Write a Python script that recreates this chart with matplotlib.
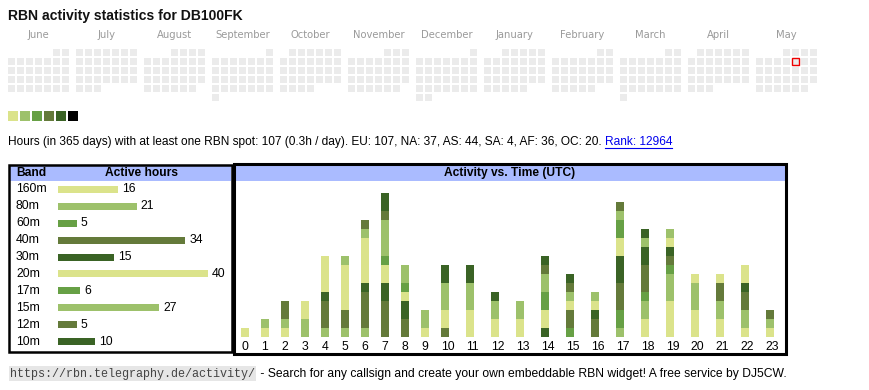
import datetime as dt
import matplotlib
matplotlib.use('Agg')
import matplotlib.pyplot as plt
from matplotlib.patches import Rectangle
import matplotlib.transforms as mtransforms
import numpy as np

# ---------------- data ----------------
callsign = "DB100FK"
months = ["June", "July", "August", "September", "October", "November",
          "December", "January", "February", "March", "April", "May"]
cal_start = dt.date(2024, 6, 1)
today = dt.date(2025, 5, 9)

bands = ['160m', '80m', '60m', '40m', '30m', '20m', '17m', '15m', '12m', '10m']
band_hours = [16, 21, 5, 34, 15, 40, 6, 27, 5, 10]
band_colors = ['#dbe38b', '#9dc16b', '#67a045', '#647a3a', '#3a6325',
               '#dbe38b', '#67a045', '#9dc16b', '#647a3a', '#3a6325']
legend_colors = ['#dbe38b', '#9dc16b', '#67a045', '#647a3a', '#3a6325', '#000000']

hours = [str(h) for h in range(24)]
act_160m = [1, 1, 1, 0, 0, 0, 0, 0, 0, 0, 0, 0, 0, 0, 0, 0, 0, 0, 2, 4, 3, 2, 1, 1]
act_80m = [0, 1, 1, 2, 1, 1, 1, 0, 0, 0, 0, 0, 0, 0, 0, 0, 0, 1, 2, 3, 3, 2, 2, 1]
act_60m = [0, 0, 0, 0, 0, 0, 0, 0, 0, 0, 0, 0, 0, 0, 0, 1, 0, 2, 1, 1, 0, 0, 0, 0]
act_40m = [0, 0, 2, 0, 3, 2, 4, 4, 2, 0, 1, 0, 0, 0, 0, 2, 2, 3, 3, 1, 0, 2, 2, 1]
act_30m = [0, 0, 0, 0, 1, 0, 1, 2, 2, 0, 0, 0, 0, 0, 1, 0, 1, 3, 2, 1, 0, 0, 1, 0]
act_20m = [0, 0, 0, 2, 4, 5, 5, 2, 1, 1, 2, 3, 2, 2, 2, 1, 1, 2, 0, 1, 1, 1, 2, 0]
act_17m = [0, 0, 0, 0, 0, 0, 0, 1, 1, 0, 0, 0, 0, 0, 2, 0, 0, 2, 0, 0, 0, 0, 0, 0]
act_15m = [0, 0, 0, 0, 0, 1, 1, 4, 2, 2, 3, 3, 2, 2, 2, 1, 1, 1, 1, 1, 0, 0, 0, 0]
act_12m = [0, 0, 0, 0, 0, 0, 1, 1, 0, 0, 0, 0, 0, 0, 1, 1, 0, 1, 0, 0, 0, 0, 0, 0]
act_10m = [0, 0, 0, 0, 0, 0, 0, 2, 0, 0, 2, 2, 1, 0, 1, 1, 0, 0, 1, 0, 0, 0, 0, 0]
activity = [act_160m, act_80m, act_60m, act_40m, act_30m,
            act_20m, act_17m, act_15m, act_12m, act_10m]

info_text = ("Hours (in 365 days) with at least one RBN spot: 107 (0.3h / day). "
             "EU: 107, NA: 37, AS: 44, SA: 4, AF: 36, OC: 20. ")
rank_text = "Rank: 12964"
footer_url = "https://rbn.telegraphy.de/activity/"
footer_text = " - Search for any callsign and create your own embeddable RBN widget! A free service by DJ5CW."

# ---------------- layout ----------------
W, H = 870, 390
fig = plt.figure(figsize=(W / 100, H / 100), dpi=100)
fig.patch.set_facecolor('white')
ax0 = fig.add_axes([0, 0, 1, 1])
ax0.set_xlim(0, W)
ax0.set_ylim(H, 0)
ax0.axis('off')


def pix_axes(left, top, width, height):
    a = fig.add_axes([left / W, 1 - (top + height) / H, width / W, height / H])
    a.patch.set_alpha(0)
    return a


SANS = 'Liberation Sans'
PT = 72 / 100  # px -> pt

# Title
ax0.text(8, 16, f"RBN activity statistics for {callsign}", fontsize=14 * PT,
         fontweight='bold', family=SANS, va='center', ha='left', color='#111111')

# Calendar
cell, stride, mstride = 7, 9, 68
for k, name in enumerate(months):
    y0 = cal_start.year + (cal_start.month - 1 + k) // 12
    m0 = (cal_start.month - 1 + k) % 12 + 1
    first = dt.date(y0, m0, 1)
    nxt = dt.date(y0 + m0 // 12, m0 % 12 + 1, 1)
    left = 8 + mstride * k
    ax0.text(left + (6 * stride + cell) / 2, 35, name, fontsize=10 * PT,
             family='DejaVu Sans', color='#9a9a9a', ha='center', va='center')
    off = first.weekday()
    d = first
    while d < nxt:
        idx = d.day - 1 + off
        r, c = idx // 7, d.weekday()
        is_today = (d == today)
        ax0.add_patch(Rectangle((left + stride * c, 49 + stride * r), cell, cell,
                                facecolor='#ebebeb',
                                edgecolor='#ee0000' if is_today else 'none',
                                linewidth=1.0 if is_today else 0))
        d += dt.timedelta(days=1)

# Colour legend
for i, col in enumerate(legend_colors):
    ax0.add_patch(Rectangle((8 + 12 * i, 111), 10, 10, facecolor=col, edgecolor='none'))

# Info line
fig.canvas.draw()
rend = fig.canvas.get_renderer()
t_info = ax0.text(8, 142, info_text, fontsize=11.9 * PT, family=SANS,
                  va='center', ha='left', color='black')
bb = t_info.get_window_extent(renderer=rend)
x_end = bb.x1  # display px == figure px (dpi 100)
t_rank = ax0.text(x_end, 142, rank_text, fontsize=11.9 * PT, family=SANS,
                  va='center', ha='left', color='#0000ee')
bb2 = t_rank.get_window_extent(renderer=rend)
ax0.plot([bb2.x0, bb2.x1], [148, 148], color='#0000ee', lw=0.8)

# ---------------- band table ----------------
ax0.add_patch(Rectangle((10, 165), 221, 16, facecolor='#aabbff', edgecolor='none'))
ax0.add_patch(Rectangle((9, 164.5), 223, 187, facecolor='none', edgecolor='black', lw=1.8))
ax0.text(16, 173, "Band", fontsize=12 * PT, fontweight='bold', family=SANS,
         va='center', ha='left')
ax0.text(141.5, 173, "Active hours", fontsize=12 * PT, fontweight='bold', family=SANS,
         va='center', ha='center')

px_per_h = 3.75
axb = pix_axes(58, 181, 170, 169)
axb.set_xlim(0, 170 / px_per_h)
axb.set_ylim(len(bands) - 0.5, -0.5)
axb.axis('off')
ypos = np.arange(len(bands))
axb.barh(ypos, band_hours, height=7 / 16.9, color=band_colors, left=0)
for y, v in zip(ypos, band_hours):
    axb.text(v + 4 / px_per_h, y, str(v), fontsize=12.3 * PT, family=SANS,
             va='center', ha='left', clip_on=False)
trans_lab = mtransforms.blended_transform_factory(ax0.transData, axb.transData)
for y, b in zip(ypos, bands):
    axb.text(16, y, b, transform=trans_lab, fontsize=12.3 * PT, family=SANS,
             va='center', ha='left', clip_on=False)

# ---------------- activity vs time ----------------
ax0.add_patch(Rectangle((236, 165), 549, 16, facecolor='#aabbff', edgecolor='none'))
ax0.add_patch(Rectangle((234.2, 164), 551.8, 190, facecolor='none', edgecolor='black', lw=2.2))
ax0.text(510, 173, "Activity vs. Time (UTC)", fontsize=12 * PT, fontweight='bold',
         family=SANS, va='center', ha='center')

unit_px = 9
col_w = np.array([15 + 5 * len(h) for h in hours], dtype=float)
col_left = np.concatenate([[0], np.cumsum(col_w)[:-1]])
axa = pix_axes(235, 336.7 - 17 * unit_px, col_w.sum(), 17 * unit_px)
axa.set_xlim(0, col_w.sum())
axa.set_ylim(0, 17)
axa.axis('off')
bottom = np.zeros(24)
for vals, col in zip(activity, band_colors):
    v = np.array(vals, dtype=float)
    axa.bar(col_left + 6, v, width=8, bottom=bottom, color=col, align='edge',
            linewidth=0)
    bottom += v
for cl, cw, lab in zip(col_left, col_w, hours):
    axa.text(cl + cw / 2, -9.8 / unit_px, lab, fontsize=12.3 * PT, family=SANS,
             va='center', ha='center', clip_on=False)

# ---------------- footer ----------------
t_url = ax0.text(10, 373.5, footer_url, fontsize=11.7 * PT, family='Liberation Mono',
                 va='center', ha='left', color='#444444',
                 bbox=dict(boxstyle='square,pad=0.12', facecolor='#e6e6e6', edgecolor='none'))
bb3 = t_url.get_window_extent(renderer=rend)
ax0.text(bb3.x1 + 2, 373.5, footer_text, fontsize=12.1 * PT, family=SANS,
         va='center', ha='left', color='black')

fig.savefig('out.png', dpi=100, facecolor='white')
